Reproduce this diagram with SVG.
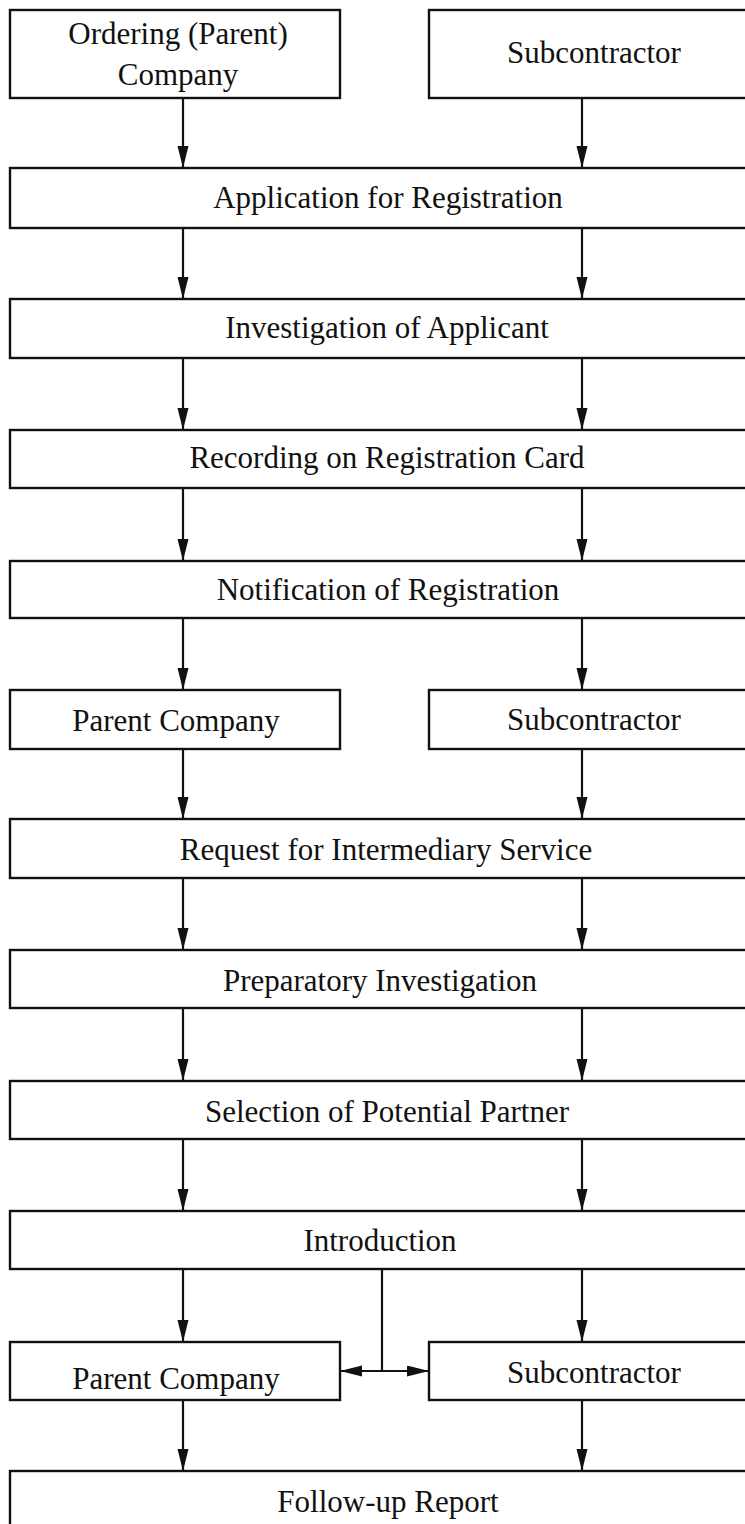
<svg xmlns="http://www.w3.org/2000/svg" width="745" height="1524" viewBox="0 0 745 1524">
<style>
.box{fill:#fff;stroke:#111;stroke-width:2.4}
.t{font-family:"Liberation Serif","Times New Roman",serif;font-size:31px;fill:#111;text-anchor:middle}
.c{fill:none;stroke:#111;stroke-width:2.2}
</style>
<defs>
<marker id="ah" markerUnits="userSpaceOnUse" markerWidth="24" markerHeight="12" refX="22" refY="5.5" orient="auto">
<path d="M0,0 L22,5.5 L0,11 z" fill="#111"/>
</marker>
</defs>
<rect width="745" height="1524" fill="#fff"/>
<g id="connectors">
<line class="c" x1="183" y1="98" x2="183" y2="168" marker-end="url(#ah)"/>
<line class="c" x1="582" y1="98" x2="582" y2="168" marker-end="url(#ah)"/>
<line class="c" x1="183" y1="228" x2="183" y2="299" marker-end="url(#ah)"/>
<line class="c" x1="582" y1="228" x2="582" y2="299" marker-end="url(#ah)"/>
<line class="c" x1="183" y1="358" x2="183" y2="430" marker-end="url(#ah)"/>
<line class="c" x1="582" y1="358" x2="582" y2="430" marker-end="url(#ah)"/>
<line class="c" x1="183" y1="488" x2="183" y2="561" marker-end="url(#ah)"/>
<line class="c" x1="582" y1="488" x2="582" y2="561" marker-end="url(#ah)"/>
<line class="c" x1="183" y1="618" x2="183" y2="690" marker-end="url(#ah)"/>
<line class="c" x1="582" y1="618" x2="582" y2="690" marker-end="url(#ah)"/>
<line class="c" x1="183" y1="749" x2="183" y2="819" marker-end="url(#ah)"/>
<line class="c" x1="582" y1="749" x2="582" y2="819" marker-end="url(#ah)"/>
<line class="c" x1="183" y1="878" x2="183" y2="950" marker-end="url(#ah)"/>
<line class="c" x1="582" y1="878" x2="582" y2="950" marker-end="url(#ah)"/>
<line class="c" x1="183" y1="1008" x2="183" y2="1081" marker-end="url(#ah)"/>
<line class="c" x1="582" y1="1008" x2="582" y2="1081" marker-end="url(#ah)"/>
<line class="c" x1="183" y1="1139" x2="183" y2="1211" marker-end="url(#ah)"/>
<line class="c" x1="582" y1="1139" x2="582" y2="1211" marker-end="url(#ah)"/>
<line class="c" x1="183" y1="1269" x2="183" y2="1342" marker-end="url(#ah)"/>
<line class="c" x1="582" y1="1269" x2="582" y2="1342" marker-end="url(#ah)"/>
<line class="c" x1="382" y1="1269" x2="382" y2="1371"/>
<line class="c" x1="382" y1="1371" x2="340" y2="1371" marker-end="url(#ah)"/>
<line class="c" x1="382" y1="1371" x2="429" y2="1371" marker-end="url(#ah)"/>
<line class="c" x1="183" y1="1400" x2="183" y2="1471" marker-end="url(#ah)"/>
<line class="c" x1="582" y1="1400" x2="582" y2="1471" marker-end="url(#ah)"/>
</g>
<g id="n-ordering"><rect class="box" x="10" y="10" width="330" height="88"/><text class="t" x="178" y="44">Ordering (Parent)</text><text class="t" x="178" y="85">Company</text></g>
<g id="n-sub1"><rect class="box" x="429" y="10" width="330" height="88"/><text class="t" x="594" y="63">Subcontractor</text></g>
<g id="n-application"><rect class="box" x="10" y="168" width="750" height="60"/><text class="t" x="388" y="208">Application for Registration</text></g>
<g id="n-investigation"><rect class="box" x="10" y="299" width="750" height="59"/><text class="t" x="387" y="338">Investigation of Applicant</text></g>
<g id="n-recording"><rect class="box" x="10" y="430" width="750" height="58"/><text class="t" x="387" y="468">Recording on Registration Card</text></g>
<g id="n-notification"><rect class="box" x="10" y="561" width="750" height="57"/><text class="t" x="388" y="600">Notification of Registration</text></g>
<g id="n-parent1"><rect class="box" x="10" y="690" width="330" height="59"/><text class="t" x="176" y="731">Parent Company</text></g>
<g id="n-sub2"><rect class="box" x="429" y="690" width="330" height="59"/><text class="t" x="594" y="730">Subcontractor</text></g>
<g id="n-request"><rect class="box" x="10" y="819" width="750" height="59"/><text class="t" x="386" y="860">Request for Intermediary Service</text></g>
<g id="n-preparatory"><rect class="box" x="10" y="950" width="750" height="58"/><text class="t" x="380" y="991">Preparatory Investigation</text></g>
<g id="n-selection"><rect class="box" x="10" y="1081" width="750" height="58"/><text class="t" x="387" y="1122">Selection of Potential Partner</text></g>
<g id="n-introduction"><rect class="box" x="10" y="1211" width="750" height="58"/><text class="t" x="380" y="1251">Introduction</text></g>
<g id="n-parent2"><rect class="box" x="10" y="1342" width="330" height="58"/><text class="t" x="176" y="1389">Parent Company</text></g>
<g id="n-sub3"><rect class="box" x="429" y="1342" width="330" height="58"/><text class="t" x="594" y="1383">Subcontractor</text></g>
<g id="n-followup"><rect class="box" x="10" y="1471" width="750" height="80"/><text class="t" x="388" y="1512">Follow-up Report</text></g>
</svg>
